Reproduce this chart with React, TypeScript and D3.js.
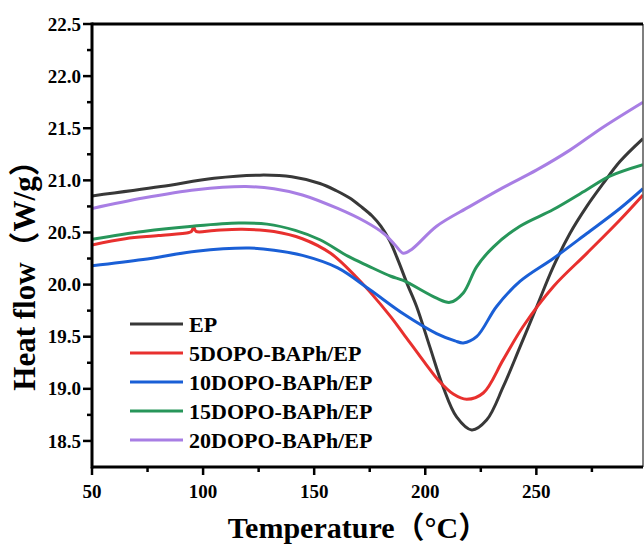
import React from "react";
import * as d3 from "d3";

const seriesNames = ["EP", "5DOPO-BAPh/EP", "10DOPO-BAPh/EP", "15DOPO-BAPh/EP", "20DOPO-BAPh/EP"];

const epData: [number, number][] = [
  [50, 20.85], [81, 20.94], [104.9, 21.02], [125.6, 21.05], [139.9, 21.035], [152.6, 20.97],
  [160, 20.9], [166, 20.83], [171, 20.75], [176, 20.66], [180, 20.56], [184, 20.42], [188, 20.22],
  [192, 20.0], [196.1, 19.79], [202.1, 19.4], [208, 19.02], [214.1, 18.73], [220.9, 18.605],
  [227.6, 18.7], [235.1, 19.02], [242.6, 19.4], [250.2, 19.79], [257.6, 20.17], [265.1, 20.49],
  [272.7, 20.75], [280.1, 20.97], [287.6, 21.18], [298, 21.4],
];

const dopo5Data: [number, number][] = [
  [50, 20.38], [65, 20.44], [80, 20.47], [93.7, 20.5], [94.8, 20.51], [95.8, 20.55], [96.8, 20.51],
  [105, 20.52], [117.6, 20.53], [131.9, 20.51], [144.7, 20.44], [157.4, 20.3], [168.6, 20.08],
  [175.1, 19.93], [184.5, 19.69], [190.1, 19.53], [200.5, 19.23], [206, 19.08], [212.6, 18.95],
  [218.6, 18.9], [226.1, 18.96], [235.1, 19.28], [244.1, 19.6], [257.6, 19.98], [272.7, 20.3],
  [287.6, 20.62], [298, 20.86],
];

const dopo10Data: [number, number][] = [
  [50, 20.18], [73, 20.24], [96.9, 20.32], [120.8, 20.35], [131.9, 20.33], [144.7, 20.28],
  [160.6, 20.16], [175.1, 19.95], [190.1, 19.72], [205.1, 19.53], [213.4, 19.46], [217.1, 19.44],
  [223.1, 19.5], [232.1, 19.79], [242.6, 20.03], [257.6, 20.25], [272.7, 20.49], [287.6, 20.73],
  [298, 20.92],
];

const dopo15Data: [number, number][] = [
  [50, 20.435], [73, 20.51], [95.3, 20.56], [116, 20.59], [128.8, 20.58], [141.5, 20.52],
  [152.6, 20.43], [165.4, 20.27], [174.2, 20.18], [184.5, 20.08], [190.1, 20.04], [205.1, 19.87],
  [211.1, 19.83], [217.1, 19.92], [223.1, 20.17], [230.6, 20.36], [242.6, 20.56], [257.6, 20.72],
  [272.7, 20.91], [283.1, 21.04], [298, 21.15],
];

const dopo20Data: [number, number][] = [
  [50, 20.73], [73, 20.83], [96.9, 20.91], [119.2, 20.94], [131.9, 20.92], [144.7, 20.86],
  [160.6, 20.73], [173.3, 20.6], [181.3, 20.49], [186.4, 20.38], [190.1, 20.3], [194, 20.34],
  [205.1, 20.56], [220.1, 20.75], [235, 20.93], [250.2, 21.1], [265.1, 21.29], [280, 21.51],
  [298, 21.75],
];

const allSeries = [epData, dopo5Data, dopo10Data, dopo15Data, dopo20Data];
const colors = ["#383838", "#e8302e", "#1a5fd6", "#27965a", "#a87ee4"];

const xTicks = [50, 100, 150, 200, 250];
const xMinorTicks = [75, 125, 175, 225, 275];
const yTicks = [18.5, 19.0, 19.5, 20.0, 20.5, 21.0, 21.5, 22.0, 22.5];
const yMinorTicks = [18.75, 19.25, 19.75, 20.25, 20.75, 21.25, 21.75, 22.25];

const W = 644;
const H = 544;
const L = 92, R = 643, T = 24, B = 467;

export default function App() {
  const x = d3.scaleLinear().domain([50, 298]).range([L, R]);
  const y = d3.scaleLinear().domain([18.25, 22.5]).range([B, T]);
  const line = d3
    .line<[number, number]>()
    .x((d) => x(d[0]))
    .y((d) => y(d[1]))
    .curve(d3.curveCatmullRom.alpha(0.5));

  const font = "'Liberation Serif', 'Times New Roman', 'Noto Sans CJK SC', serif";

  return (
    <svg
      width={W}
      height={H}
      style={{ position: "absolute", left: 0, top: 0, background: "#fff" }}
      fontFamily={font}
    >
      <rect x={0} y={0} width={W} height={H} fill="#fff" />
      <defs>
        <clipPath id="plot">
          <rect x={L} y={T} width={R - L} height={B - T} />
        </clipPath>
      </defs>
      <g clipPath="url(#plot)">
        {allSeries.map((s, i) => (
          <path key={i} d={line(s) || ""} fill="none" stroke={colors[i]} strokeWidth={3} strokeLinejoin="round" />
        ))}
      </g>
      <line x1={R} x2={R} y1={T} y2={B} stroke="#555" strokeWidth={1.5} />
      <line x1={L} x2={R} y1={T} y2={T} stroke="#000" strokeWidth={3} />
      <line x1={L} x2={R} y1={B} y2={B} stroke="#000" strokeWidth={3} />
      <line x1={L} x2={L} y1={T - 1.5} y2={B + 1.5} stroke="#000" strokeWidth={3} />
      {yTicks.map((t) => (
        <g key={"y" + t}>
          <line x1={L - 9} x2={L} y1={y(t)} y2={y(t)} stroke="#000" strokeWidth={2.5} />
          <text x={L - 11} y={y(t)} dy="0.35em" textAnchor="end" fontSize={19} fontWeight="bold">
            {t.toFixed(1)}
          </text>
        </g>
      ))}
      {yMinorTicks.map((t) => (
        <line key={"ym" + t} x1={L - 5} x2={L} y1={y(t)} y2={y(t)} stroke="#000" strokeWidth={2.5} />
      ))}
      {xTicks.map((t) => (
        <g key={"x" + t}>
          <line x1={x(t)} x2={x(t)} y1={B} y2={B + 8} stroke="#000" strokeWidth={2.5} />
          <text x={x(t)} y={B + 31} textAnchor="middle" fontSize={19} fontWeight="bold">
            {t}
          </text>
        </g>
      ))}
      {xMinorTicks.map((t) => (
        <line key={"xm" + t} x1={x(t)} x2={x(t)} y1={B} y2={B + 5} stroke="#000" strokeWidth={2.5} />
      ))}
      <text x={358} y={538} textAnchor="middle" fontSize={30} fontWeight="bold">
        Temperature（°C）
      </text>
      <text
        transform={`translate(35, 268) rotate(-90)`}
        textAnchor="middle"
        fontSize={31}
        fontWeight="bold"
      >
        Heat flow（W/g）
      </text>
      {seriesNames.map((n, i) => {
        const ly = 324 + i * 29;
        return (
          <g key={n}>
            <line x1={130} x2={183} y1={ly} y2={ly} stroke={colors[i]} strokeWidth={3} />
            <text x={189} y={ly} dy="0.35em" fontSize={22} fontWeight="bold">
              {n}
            </text>
          </g>
        );
      })}
    </svg>
  );
}
